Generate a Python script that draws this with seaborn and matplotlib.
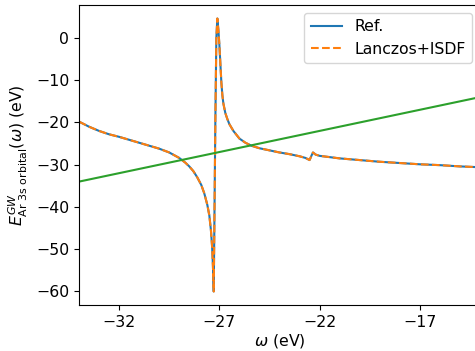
import matplotlib
matplotlib.use("Agg")
import matplotlib.pyplot as plt
import seaborn as sns
import pandas as pd

# frequency grid (eV) and GW energies
omega = [-34.0, -33.5, -33.0, -32.5, -32.0, -31.5, -31.0, -30.5, -30.0, -29.5,
         -29.0, -28.7, -28.5, -28.3, -28.1, -27.9, -27.75, -27.6, -27.5, -27.42,
         -27.36, -27.32, -27.28, -27.25, -27.2, -27.15, -27.1, -27.05, -27.0, -26.95,
         -26.9, -26.85, -26.8, -26.7, -26.6, -26.5, -26.3, -26.0, -25.7, -25.4,
         -25.0, -24.5, -24.0, -23.5, -23.0, -22.7, -22.5, -22.4, -22.33, -22.2,
         -22.0, -21.5, -21.0, -20.0, -19.0, -18.0, -17.0, -16.0, -15.0, -14.0]
e_ref = [-19.8, -21.0, -22.0, -22.8, -23.4, -24.1, -24.8, -25.5, -26.2, -27.1,
         -28.4, -29.5, -30.4, -31.5, -33.0, -34.8, -36.8, -39.5, -42.0, -45.5,
         -49.5, -54.0, -60.0, -45.0, -20.0, 0.0, 4.6, 2.0, -1.5, -6.0,
         -10.5, -13.5, -15.5, -17.8, -19.2, -20.4, -22.0, -23.8, -24.8, -25.5,
         -26.1, -26.6, -27.1, -27.5, -28.0, -28.4, -28.9, -27.8, -27.1, -27.6,
         -27.9, -28.2, -28.5, -28.9, -29.3, -29.6, -29.9, -30.1, -30.4, -30.6]
e_isdf = list(e_ref)
omega_diag = [-34.0, -14.0]
xticks = [-32, -27, -22, -17]

df = pd.DataFrame({"omega": omega, "ref": e_ref, "isdf": e_isdf})
df_diag = pd.DataFrame({"x": omega_diag, "y": omega_diag})

plt.rcParams["font.size"] = 11.3
fig = plt.figure(figsize=(4.75, 3.51), dpi=100)
ax = fig.add_axes([79 / 475, 46 / 351, 401 / 475, 300 / 351])

sns.lineplot(data=df, x="omega", y="ref", ax=ax, color="C0", lw=1.5, label="Ref.")
sns.lineplot(data=df, x="omega", y="isdf", ax=ax, color="C1", lw=1.5,
             linestyle="--", label="Lanczos+ISDF")
sns.lineplot(data=df_diag, x="x", y="y", ax=ax, color="C2", lw=1.5)

ax.set_xlim(-34, -14)
ax.set_ylim(-63.2, 7.8)
ax.set_xticks(xticks)
ax.set_xticklabels([str(t).replace("-", "\u2212") for t in xticks])
ax.set_xlabel(r"$\omega$ (eV)", labelpad=2)
ax.set_ylabel(r"$E^{GW}_{\mathrm{Ar\ 3s\ orbital}}(\omega)$ (eV)")
ax.legend(loc="upper right")

fig.savefig("out.png", dpi=100)
